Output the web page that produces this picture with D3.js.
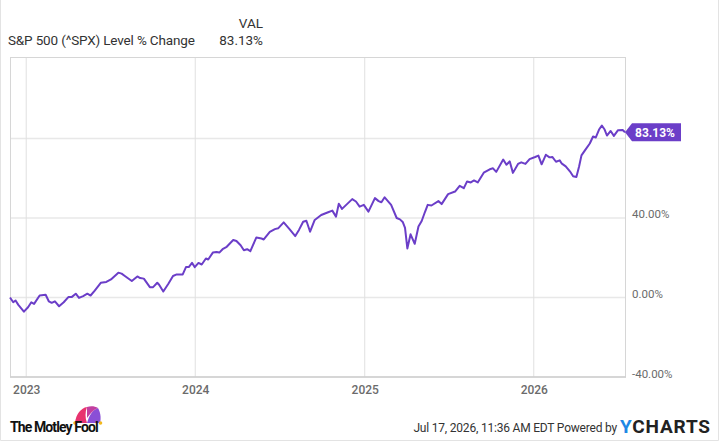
<!DOCTYPE html>
<html><head><meta charset="utf-8">
<script src="https://cdn.jsdelivr.net/npm/d3@7"></script>
<style>body{margin:0;background:#fff;} svg{display:block;font-family:Roboto, "Liberation Sans", sans-serif;}</style>
</head><body><svg id="c" width="720" height="441"></svg>
<script>
// ---- data ----
const dates = ["2022-11-27","2022-12-04","2022-12-09","2022-12-15","2022-12-27","2023-01-05","2023-01-12","2023-01-18","2023-01-30","2023-02-12",
"2023-02-19","2023-02-25","2023-03-04","2023-03-13","2023-03-23","2023-04-02","2023-04-09","2023-04-18","2023-04-25","2023-05-04",
"2023-05-13","2023-05-20","2023-05-29","2023-06-11","2023-06-23","2023-07-03","2023-07-19","2023-07-26","2023-08-02","2023-08-17",
"2023-08-29","2023-09-04","2023-09-12","2023-09-25","2023-10-02","2023-10-11","2023-10-15","2023-10-24","2023-11-04","2023-11-14",
"2023-11-22","2023-12-05","2023-12-12","2023-12-18","2023-12-25","2023-12-31","2024-01-08","2024-01-15","2024-01-24","2024-01-29",
"2024-02-08","2024-02-16","2024-02-22","2024-02-29","2024-03-09","2024-03-23","2024-03-30","2024-04-08","2024-04-15","2024-04-22",
"2024-04-29","2024-05-12","2024-05-23","2024-05-28","2024-06-10","2024-06-21","2024-06-28","2024-07-10","2024-07-23","2024-08-04",
"2024-08-12","2024-08-21","2024-08-28","2024-09-05","2024-09-15","2024-09-29","2024-10-14","2024-10-23","2024-10-31","2024-11-06",
"2024-11-13","2024-11-22","2024-12-05","2024-12-13","2024-12-21","2024-12-30","2025-01-09","2025-01-23","2025-01-31","2025-02-06",
"2025-02-13","2025-02-27","2025-03-11","2025-03-18","2025-03-24","2025-03-29","2025-04-03","2025-04-10","2025-04-19","2025-04-27",
"2025-05-04","2025-05-11","2025-05-17","2025-05-25","2025-06-09","2025-06-16","2025-06-30","2025-07-15","2025-07-25","2025-08-03",
"2025-08-10","2025-08-18","2025-08-25","2025-09-02","2025-09-15","2025-09-28","2025-10-05","2025-10-12","2025-10-27","2025-11-03",
"2025-11-10","2025-11-17","2025-11-28","2025-12-05","2025-12-14","2025-12-23","2026-01-04","2026-01-11","2026-01-18","2026-01-27",
"2026-02-04","2026-02-10","2026-02-18","2026-02-26","2026-03-02","2026-03-11","2026-03-20","2026-03-27","2026-04-03","2026-04-09",
"2026-04-14","2026-04-23","2026-05-02","2026-05-09","2026-05-15","2026-05-22","2026-05-28","2026-06-03","2026-06-08","2026-06-16",
"2026-06-23","2026-07-02","2026-07-12","2026-07-17"];
const values = [0.0,-2.4,-1.5,-3.7,-7.1,-4.9,-2.4,-3.2,1.0,1.4,
-2.0,-2.7,-1.9,-4.4,-2.4,0.2,0.2,1.9,-0.2,0.7,
1.9,1.0,3.5,7.4,7.8,9.1,12.5,12.0,10.8,8.3,
10.6,9.8,9.5,5.2,5.2,7.4,6.4,3.0,6.9,10.8,
11.6,11.6,15.3,15.3,17.4,15.3,17.4,16.6,19.6,19.1,
22.6,22.9,22.6,24.3,25.5,28.9,28.4,26.3,23.8,24.3,
23.3,30.2,29.7,29.2,33.0,34.4,34.8,37.8,34.3,30.9,
34.0,38.1,38.6,33.1,39.0,41.5,42.9,43.7,40.7,47.2,
44.6,46.6,49.5,48.3,45.7,46.6,43.2,50.0,48.5,47.9,
50.4,46.6,40.0,39.3,38.0,35.0,24.7,31.8,27.0,35.7,
38.5,43.0,46.6,46.3,48.5,47.0,52.0,53.3,56.2,55.0,
58.4,57.9,58.9,57.9,62.8,64.5,65.0,63.2,69.4,66.8,
68.5,62.7,67.2,68.0,67.2,69.6,70.7,71.4,67.0,71.8,
70.5,70.7,68.3,69.0,67.5,66.0,63.5,61.0,60.6,66.0,
71.5,74.5,77.5,81.0,80.5,84.5,86.5,84.5,81.5,83.8,
81.3,84.2,84.3,83.13];
const gridTicks = [0, 40, 80];
const yLabelTicks = [-40, 0, 40];
const xTicks = ["2023-01-01","2024-01-01","2025-01-01","2026-01-01"];
const xDomain = ["2022-11-27","2026-07-17"];
const yDomain = [-40, 121];
const seriesName = "S&P 500 (^SPX) Level % Change";
const colHeader = "VAL";
const lastValue = 83.13;
const stamp = "Jul 17, 2026, 11:36 AM EDT Powered by";

// ---- drawing ----
const parse = d3.timeParse("%Y-%m-%d");
const data = dates.map((d,i)=>({date:parse(d), v:values[i]}));
const svg = d3.select("#c");
const L=10, R=625, T=57, B=377;
const x = d3.scaleTime().domain(xDomain.map(parse)).range([L,R]);
const y = d3.scaleLinear().domain(yDomain).range([B,T]);
const purple = "#6b3ec8";

// outer frame
svg.append("path").attr("d","M0.5,0 V440.5 H718.5 V0").attr("fill","none").attr("stroke","#e3e3e3");

// horizontal grid
svg.append("g").selectAll("line").data(gridTicks).join("line")
  .attr("x1",L).attr("x2",R).attr("y1",d=>y(d)).attr("y2",d=>y(d))
  .attr("stroke","#e8e8e8").attr("stroke-width",1.5);
// vertical grid
svg.append("g").selectAll("line").data(xTicks.map(parse)).join("line")
  .attr("x1",d=>x(d)).attr("x2",d=>x(d)).attr("y1",T).attr("y2",B)
  .attr("stroke","#e0e0e0").attr("stroke-width",1);
// plot border
svg.append("rect").attr("x",L+0.5).attr("y",T+0.5).attr("width",R-L).attr("height",B-T-0.5)
  .attr("fill","none").attr("stroke","#d6d6d6");
svg.append("line").attr("x1",L).attr("x2",R+1).attr("y1",B).attr("y2",B).attr("stroke","#cfcfcf").attr("stroke-width",1.5);

// axes
const xa = svg.append("g").attr("transform",`translate(0,${B})`)
  .call(d3.axisBottom(x).tickValues(xTicks.map(parse)).tickFormat(d3.timeFormat("%Y")).tickSize(0));
xa.select(".domain").remove();
xa.selectAll("text").attr("dy",null).attr("y",17).attr("font-size",12).attr("fill","#6b6b6b")
  .attr("font-family","Roboto").attr("font-weight",500);

const ya = svg.append("g").attr("transform",`translate(${R},0)`)
  .call(d3.axisRight(y).tickValues(yLabelTicks).tickFormat(d=>d.toFixed(2)+"%").tickSize(0));
ya.select(".domain").remove();
ya.selectAll("text").attr("dy",0).attr("x",7).attr("font-size",11.5).attr("fill","#6b6b6b")
  .attr("font-family","Roboto");

// line
svg.append("path").datum(data)
  .attr("d", d3.line().x(d=>x(d.date)).y(d=>y(d.v)))
  .attr("fill","none").attr("stroke",purple).attr("stroke-width",2).attr("stroke-linejoin","round");

// badge
const by = y(lastValue);
svg.append("path").attr("d",`M${R},${by} L${R+7},${by-9} H${R+56} V${by+9} H${R+7} Z`).attr("fill",purple);
svg.append("text").attr("x",R+10).attr("y",by+4.5).attr("fill","#fff").attr("font-size",12)
  .attr("font-weight",700).attr("font-family","Roboto").text(lastValue.toFixed(2)+"%");

// legend
svg.append("text").attr("x",263).attr("y",28).attr("text-anchor","end").attr("font-size",13.5).attr("fill","#333").text(colHeader);
svg.append("text").attr("x",8).attr("y",45).attr("font-size",13.5).attr("fill","#333").attr("letter-spacing",-0.15).text(seriesName);
svg.append("text").attr("x",263).attr("y",45).attr("text-anchor","end").attr("font-size",13.5).attr("fill","#333").text(lastValue.toFixed(2)+"%");

// footer: Motley Fool
const hat = svg.append("g").attr("transform","translate(73,406)");
hat.append("path").attr("d","M2,17 C3,8 8,2 14,1 C12,6 12,12 14,17 Z").attr("fill","#e8336f");
hat.append("path").attr("d","M14,17 C16,10 19,4 25,2 C28,7 28,13 27,17 Z").attr("fill","#8a4fd6");
hat.append("path").attr("d","M14,1 C17,0 22,0 25,2 C20,4 17,8 14,12 Z").attr("fill","#c23fa0");
hat.append("circle").attr("cx",2).attr("cy",17).attr("r",1.8).attr("fill","#f2b81c");
hat.append("circle").attr("cx",27.5).attr("cy",17).attr("r",1.8).attr("fill","#f2b81c");
svg.append("text").attr("x",10).attr("y",432).attr("font-size",14).attr("font-weight",700)
  .attr("font-family","Roboto").attr("letter-spacing",-0.9).attr("fill","#111").text("The Motley Fool");

svg.append("text").attr("x",617).attr("y",432).attr("text-anchor","end").attr("font-size",12)
  .attr("fill","#333").attr("font-family","Roboto").attr("letter-spacing",-0.2).text(stamp);
const yc = svg.append("text").attr("x",620).attr("y",433).attr("font-size",19).attr("font-weight",700)
  .attr("font-family","Roboto").attr("letter-spacing",0.8);
yc.append("tspan").attr("fill","#1e88e5").text("Y");
yc.append("tspan").attr("fill","#222").text("CHARTS");
</script></body></html>
